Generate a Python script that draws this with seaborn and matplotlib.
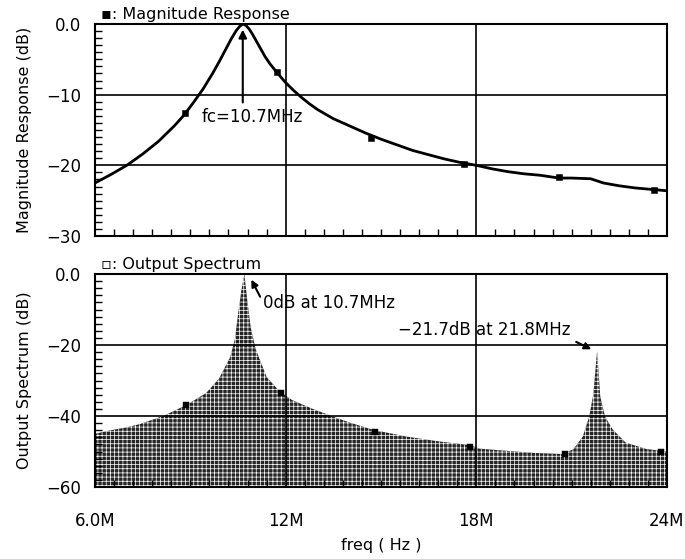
import matplotlib
matplotlib.use("Agg")
import matplotlib.pyplot as plt
import seaborn as sns
import numpy as np
from matplotlib.ticker import MultipleLocator, FixedLocator

# magnitude response curve (freq in MHz, dB)
mag_freq = [6.0, 6.5, 7.0, 7.5, 8.0, 8.5, 8.8, 9.1, 9.4, 9.7, 9.9, 10.1,
            10.3, 10.45, 10.55, 10.65, 10.75, 10.85, 10.95, 11.05, 11.2,
            11.35, 11.5, 11.75, 12.0, 12.25, 12.5, 12.75, 13.0, 13.5, 14.0,
            14.5, 15.0, 15.5, 16.0, 16.5, 17.0, 17.5, 18.0, 18.5, 19.0,
            19.5, 20.0, 20.6, 21.0, 21.6, 22.0, 22.5, 23.0, 23.5, 24.0]
mag_db = [-22.5, -21.3, -20.0, -18.4, -16.6, -14.4, -12.9, -11.1, -9.2, -7.0,
          -5.4, -3.7, -2.0, -0.9, -0.35, 0.0, -0.2, -0.7, -1.4, -2.2, -3.4,
          -4.6, -5.6, -7.0, -8.3, -9.4, -10.4, -11.3, -12.1, -13.4, -14.4,
          -15.4, -16.3, -17.1, -17.9, -18.5, -19.1, -19.6, -20.0, -20.5,
          -20.9, -21.2, -21.4, -21.8, -21.8, -21.9, -22.5, -22.9, -23.2,
          -23.4, -23.6]
mag_mark_f = [8.83, 11.73, 14.7, 17.6, 20.6, 23.6]
mag_mark_db = [-12.6, -6.8, -16.1, -19.8, -21.7, -23.5]

# output spectrum envelope
spec_freq = [6.0, 6.5, 7.0, 7.4, 8.15, 8.9, 9.5, 9.9, 10.25, 10.4, 10.5, 10.6,
             10.7, 10.8, 10.9, 11.05, 11.4, 11.8, 12.2, 12.85, 13.5, 14.0,
             14.75, 15.8, 16.85, 17.8, 18.1, 18.95, 19.8, 20.7, 21.05, 21.35,
             21.55, 21.68, 21.8, 21.9, 22.05, 22.3, 22.7, 23.35, 24.0]
spec_db = [-45.0, -44.0, -43.2, -42.3, -40.0, -36.8, -33.5, -29.5, -23.5,
           -18.5, -11.5, -5.0, 0.0, -8.0, -15.0, -21.0, -29.0, -33.0, -35.5,
           -38.0, -40.2, -41.8, -43.9, -45.8, -47.2, -48.2, -49.2, -49.8,
           -50.4, -50.7, -49.4, -45.8, -40.2, -34.0, -21.7, -34.5, -40.2,
           -43.9, -47.5, -49.3, -50.0]
spec_mark_f = [8.85, 11.85, 14.8, 17.8, 20.8, 23.8]
spec_mark_db = [-36.9, -33.6, -44.4, -48.6, -50.7, -50.0]

x_ticks = [6, 12, 18, 24]
x_labels = ["6.0M", "12M", "18M", "24M"]
top_yticks = [0, -10, -20, -30]
top_ylabels = ["0.0", "\u221210", "\u221220", "\u221230"]
bot_yticks = [0, -20, -40, -60]
bot_ylabels = ["0.0", "\u221220", "\u221240", "\u221260"]

sns.set_style("white")
plt.rcParams["font.family"] = ["DejaVu Sans"]
plt.rcParams["text.color"] = "black"
plt.rcParams["axes.labelcolor"] = "black"
plt.rcParams["xtick.color"] = "black"
plt.rcParams["ytick.color"] = "black"
plt.rcParams["hatch.linewidth"] = 0.5
fs = 11.5
tfs = 12

fig = plt.figure(figsize=(6.85, 5.59), dpi=100)
ax1 = fig.add_axes([95 / 685, 1 - 236 / 559, 572 / 685, 212 / 559])
ax2 = fig.add_axes([95 / 685, 1 - 487 / 559, 572 / 685, 213 / 559])

for ax in (ax1, ax2):
    ax.set_xlim(6, 24)
    ax.xaxis.set_major_locator(FixedLocator(x_ticks))
    ax.xaxis.set_minor_locator(MultipleLocator(0.6))
    ax.grid(True, which="major", color="black", lw=1.2)
    ax.tick_params(which="major", length=0, labelsize=tfs, pad=10)
    ax.tick_params(which="minor", direction="in", length=5, width=1,
                   bottom=True, left=True, top=False, right=False)
    for s in ax.spines.values():
        s.set_color("black")
        s.set_linewidth(1.5)

# top: magnitude response
sns.lineplot(x=mag_freq, y=mag_db, ax=ax1, color="black", lw=2)
sns.scatterplot(x=mag_mark_f, y=mag_mark_db, ax=ax1, marker="s", s=22,
                color="black", edgecolor="black")
ax1.set_ylim(-30, 0)
ax1.yaxis.set_major_locator(FixedLocator(top_yticks))
ax1.set_yticklabels(top_ylabels)
ax1.yaxis.set_minor_locator(MultipleLocator(1))
ax1.set_xticklabels([])
ax1.set_ylabel("Magnitude Response (dB)", fontsize=fs, labelpad=10)
ax1.set_xlabel("")
ax1.text(0.01, 1.01, "\u25aa: Magnitude Response", transform=ax1.transAxes,
         fontsize=fs, va="bottom", ha="left")
ax1.annotate("", xy=(10.65, -0.4), xytext=(10.65, -11.5),
             arrowprops=dict(arrowstyle="-|>", color="black", lw=1.5,
                             mutation_scale=12))
ax1.text(9.36, -13.1, "fc=10.7MHz", fontsize=tfs, va="center", ha="left")

# bottom: output spectrum
ax2.fill_between(spec_freq, spec_db, -60, facecolor="#262626",
                 edgecolor="white", hatch="----||||", lw=0, zorder=2)
sns.scatterplot(x=spec_mark_f, y=spec_mark_db, ax=ax2, marker="s", s=14,
                color="black", edgecolor="black", zorder=3)
ax2.set_ylim(-60, 0)
ax2.yaxis.set_major_locator(FixedLocator(bot_yticks))
ax2.set_yticklabels(bot_ylabels)
ax2.yaxis.set_minor_locator(MultipleLocator(2))
ax2.set_xticklabels(x_labels)
ax2.tick_params(axis="x", which="major", pad=18)
ax2.set_ylabel("Output Spectrum (dB)", fontsize=fs, labelpad=10)
ax2.set_xlabel("freq ( Hz )", fontsize=fs, labelpad=6)
ax2.text(0.01, 1.01, "\u25ab: Output Spectrum", transform=ax2.transAxes,
         fontsize=fs, va="bottom", ha="left")
ax2.set_axisbelow(False)
ax2.annotate("0dB at 10.7MHz", xy=(10.92, -1.6), xytext=(11.3, -8.2),
             fontsize=tfs, va="center", ha="left",
             arrowprops=dict(arrowstyle="-|>", color="black", lw=1.5,
                             mutation_scale=10, shrinkA=0, shrinkB=0,
                             relpos=(0, 0.5)))
ax2.annotate("\u221221.7dB at 21.8MHz", xy=(21.62, -21.2), xytext=(20.96, -15.8),
             fontsize=tfs, va="center", ha="right",
             arrowprops=dict(arrowstyle="-|>", color="black", lw=1.5,
                             mutation_scale=10, shrinkA=2, shrinkB=0,
                             relpos=(1, 0)))

fig.savefig("out.png", dpi=100)
